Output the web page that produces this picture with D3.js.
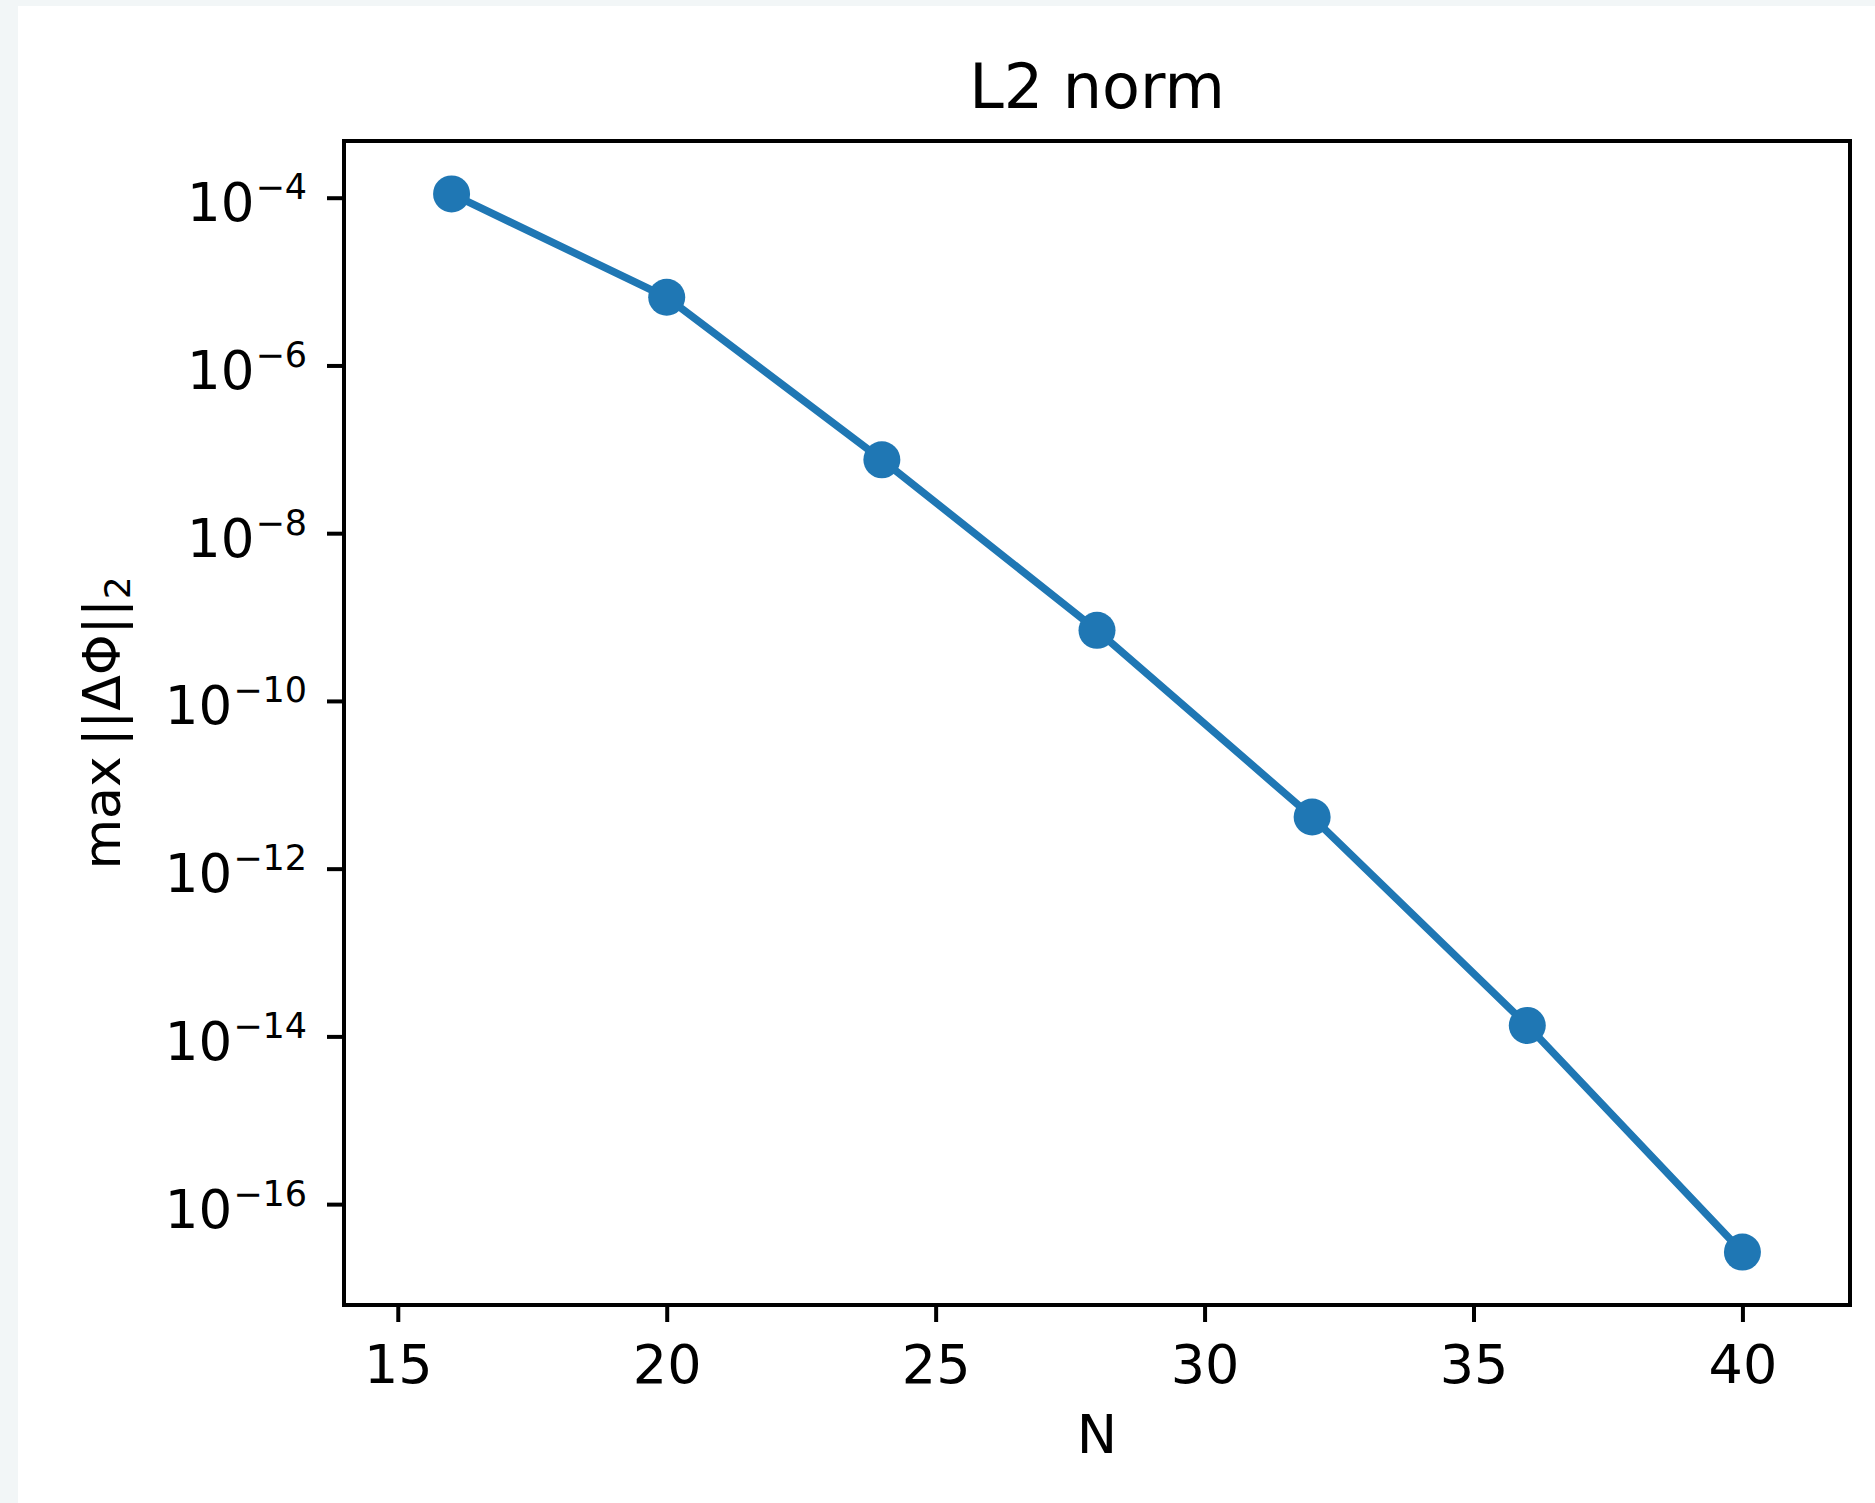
<!DOCTYPE html>
<html>
<head>
<meta charset="utf-8">
<script src="https://cdn.jsdelivr.net/npm/d3@7"></script>
<style>
    body { margin: 0; background: #f2f6f7; }
    text { font-family: "DejaVu Sans", sans-serif; fill: #000; }
</style>
</head>
<body>
<div id="chart"></div>
<script>
// values
var nValues = [16, 20, 24, 28, 32, 36, 40];
var errValues = [1.11e-4, 6.5e-6, 7.5e-8, 6.95e-10, 4.13e-12, 1.35e-14, 2.68e-17];
var xTicks = [15, 20, 25, 30, 35, 40];
var yTickExps = [-4, -6, -8, -10, -12, -14, -16];

var W = 1875, H = 1503;
var margin = {top: 141, right: 25, bottom: 198, left: 344},
    width = W - margin.left - margin.right,
    height = H - margin.top - margin.bottom;

var blue = "#1f77b4";

var svg = d3.select("#chart").append("svg")
    .attr("width", W)
    .attr("height", H)
    .style("display", "block");

// white figure area
svg.append("rect")
    .attr("x", 18).attr("y", 6)
    .attr("width", W - 18).attr("height", H - 6)
    .attr("fill", "#fff");

var g = svg.append("g")
    .attr("transform", "translate(" + margin.left + "," + margin.top + ")");

// log y domain padded like matplotlib (5% each side in log space)
var lmin = Math.log10(d3.min(errValues)),
    lmax = Math.log10(d3.max(errValues)),
    pad = (lmax - lmin) * 0.05;

var x = d3.scaleLinear().domain([14, 42]).range([0, width]);
var y = d3.scaleLog()
    .domain([Math.pow(10, lmin - pad), Math.pow(10, lmax + pad)])
    .range([height, 0]);

var xAxis = d3.axisBottom(x).tickValues(xTicks).tickSize(17).tickSizeOuter(0);
var yAxis = d3.axisLeft(y)
    .tickValues(yTickExps.map(function(e) { return Math.pow(10, e); }))
    .tickSize(17).tickSizeOuter(0).tickFormat("");

var gx = g.append("g")
    .attr("transform", "translate(0," + height + ")")
    .call(xAxis);
gx.select(".domain").remove();
gx.selectAll(".tick line").attr("stroke", "#000").attr("stroke-width", 4);
gx.selectAll(".tick text")
    .attr("y", 78).attr("dy", null)
    .style("font-size", "54px");

var gy = g.append("g").call(yAxis);
gy.select(".domain").remove();
gy.selectAll(".tick line").attr("stroke", "#000").attr("stroke-width", 4);

// 10^e labels with superscript
gy.selectAll(".tick").each(function(d, i) {
    var t = d3.select(this).select("text")
        .attr("x", -37).attr("dy", null).attr("y", 23)
        .style("font-size", "53px")
        .attr("text-anchor", "end");
    t.append("tspan").text("10");
    t.append("tspan")
        .attr("dy", -22).attr("dx", 1)
        .style("font-size", "35px")
        .text("\u2212" + Math.abs(yTickExps[i]));
});

// frame
g.append("rect")
    .attr("width", width).attr("height", height)
    .attr("fill", "none")
    .attr("stroke", "#000")
    .attr("stroke-width", 4);

var line = d3.line()
    .x(function(d, i) { return x(nValues[i]); })
    .y(function(d) { return y(d); });

g.append("path")
    .datum(errValues)
    .attr("d", line)
    .attr("fill", "none")
    .attr("stroke", blue)
    .attr("stroke-width", 7.5);

g.selectAll("circle")
    .data(errValues)
    .enter().append("circle")
    .attr("cx", function(d, i) { return x(nValues[i]); })
    .attr("cy", function(d) { return y(d); })
    .attr("r", 18.5)
    .attr("fill", blue);

// title and axis labels
svg.append("text")
    .attr("x", margin.left + width / 2)
    .attr("y", 108)
    .attr("text-anchor", "middle")
    .style("font-size", "62px")
    .text("L2 norm");

svg.append("text")
    .attr("x", margin.left + width / 2)
    .attr("y", 1453)
    .attr("text-anchor", "middle")
    .style("font-size", "54px")
    .text("N");

var yl = svg.append("text")
    .attr("transform", "translate(120," + (margin.top + height / 2) + ") rotate(-90)")
    .attr("text-anchor", "middle")
    .style("font-size", "52px");
yl.append("tspan").text("max\u2009||\u0394\u03A6||");
yl.append("tspan")
    .attr("dy", 10)
    .style("font-size", "36px")
    .text("2");
</script>
</body>
</html>
